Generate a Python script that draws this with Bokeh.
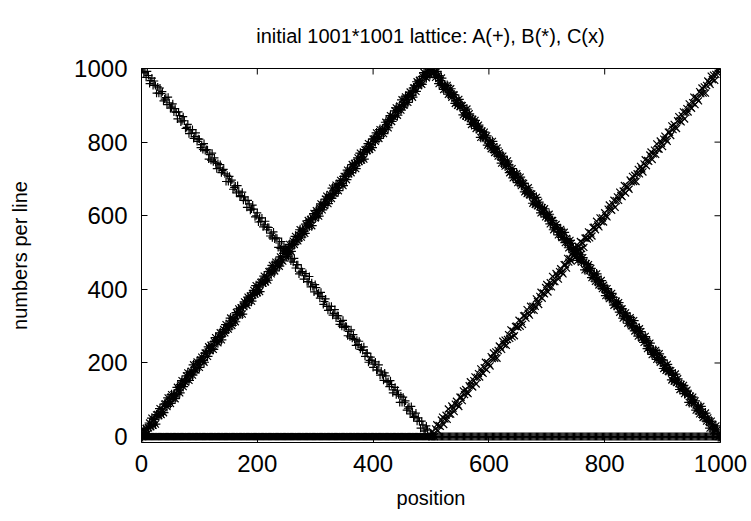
import math
from bokeh.plotting import figure
from bokeh.models import Range1d, FixedTicker, ColumnDataSource
from bokeh.embed import file_html
from bokeh.resources import INLINE

# positions 0, 2, 4, ..., 1000
position = list(range(0, 1001, 2))

# series A (+): diagonal read from x=500 back to x=0
a_diag_from_500 = [
    8, 0, 0, 18, 29, 18, 15, 32, 42, 23, 41, 51, 42, 64, 55, 52, 67, 82, 62, 81, 77, 72, 97, 92, 107, 93, 110, 93, 114, 126,
    114, 134, 127, 119, 141, 152, 136, 150, 148, 165, 173, 153, 168, 178, 167, 195, 181, 181, 203, 197, 188, 208, 216, 207, 202, 227, 227, 218, 244, 234,
    243, 237, 259, 250, 262, 248, 264, 277, 267, 290, 271, 286, 274, 299, 300, 297, 316, 300, 313, 305, 328, 329, 322, 345, 335, 330, 354, 344, 354, 343,
    354, 374, 367, 359, 381, 392, 376, 390, 388, 405, 413, 393, 408, 418, 407, 435, 421, 421, 443, 437, 428, 448, 456, 447, 442, 467, 467, 458, 484, 474,
    483, 477, 499, 490, 502, 488, 504, 517, 507, 530, 511, 526, 514, 539, 540, 537, 556, 540, 553, 545, 568, 569, 562, 585, 575, 570, 594, 584, 594, 583,
    608, 600, 597, 618, 629, 618, 615, 632, 642, 623, 641, 651, 642, 664, 655, 652, 667, 682, 662, 681, 677, 672, 697, 692, 707, 693, 710, 693, 714, 726,
    723, 717, 739, 730, 742, 728, 744, 757, 747, 770, 751, 766, 754, 779, 780, 777, 796, 780, 793, 785, 808, 809, 802, 825, 815, 810, 834, 824, 834, 823,
    848, 840, 837, 858, 869, 858, 855, 872, 882, 863, 881, 891, 882, 904, 895, 892, 907, 922, 902, 921, 917, 912, 937, 932, 947, 933, 950, 933, 954, 966,
    954, 974, 967, 959, 981, 992, 976, 990, 988, 1000, 1000,
]
# series A (+): flat part, x=502..1000
a_flat = [
    0, 0, 0, 0, 0, 0, 0, 0, 0, 0, 0, 0, 0, 0, 0, 0, 0, 0, 0, 0, 0, 0, 0, 0, 0,
    0, 0, 0, 0, 0, 0, 0, 0, 0, 0, 0, 0, 0, 0, 0, 0, 0, 0, 0, 0, 0, 0, 0, 0, 0,
    0, 0, 0, 0, 0, 0, 0, 0, 0, 0, 0, 0, 0, 0, 0, 0, 0, 0, 0, 0, 0, 0, 0, 0, 0,
    0, 0, 0, 0, 0, 0, 0, 0, 0, 0, 0, 0, 0, 0, 0, 0, 0, 0, 0, 0, 0, 0, 0, 0, 0,
    0, 0, 0, 0, 0, 0, 0, 0, 0, 0, 0, 0, 0, 0, 0, 0, 0, 0, 0, 0, 0, 0, 0, 0, 0,
    0, 0, 0, 0, 0, 0, 0, 0, 0, 0, 0, 0, 0, 0, 0, 0, 0, 0, 0, 0, 0, 0, 0, 0, 0,
    0, 0, 0, 0, 0, 0, 0, 0, 0, 0, 0, 0, 0, 0, 0, 0, 0, 0, 0, 0, 0, 0, 0, 0, 0,
    0, 0, 0, 0, 0, 0, 0, 0, 0, 0, 0, 0, 0, 0, 0, 0, 0, 0, 0, 0, 0, 0, 0, 0, 0,
    0, 0, 0, 0, 0, 0, 0, 0, 0, 0, 0, 0, 0, 0, 0, 0, 0, 0, 0, 0, 0, 0, 0, 0, 0,
    0, 0, 0, 0, 0, 0, 0, 0, 0, 0, 0, 0, 0, 0, 0, 0, 0, 0, 0, 0, 0, 0, 0, 0, 0,
]

# series B (*): rising part, x=0..500
b_rise = [
    3, 0, 19, 10, 22, 8, 24, 37, 27, 50, 31, 46, 34, 59, 60, 57, 76, 60, 73, 65, 88, 89, 82, 105, 95, 90, 114, 104, 114, 103,
    114, 134, 127, 119, 141, 152, 136, 150, 148, 165, 173, 153, 168, 178, 167, 195, 181, 181, 203, 197, 188, 208, 216, 207, 202, 227, 227, 218, 244, 234,
    248, 240, 237, 258, 269, 258, 255, 272, 282, 263, 281, 291, 282, 304, 295, 292, 307, 322, 302, 321, 317, 312, 337, 332, 347, 333, 350, 333, 354, 366,
    363, 357, 379, 370, 382, 368, 384, 397, 387, 410, 391, 406, 394, 419, 420, 417, 436, 420, 433, 425, 448, 449, 442, 465, 455, 450, 474, 464, 474, 463,
    488, 480, 477, 498, 509, 498, 495, 512, 522, 503, 521, 531, 522, 544, 535, 532, 547, 562, 542, 561, 557, 552, 577, 572, 587, 573, 590, 573, 594, 606,
    594, 614, 607, 599, 621, 632, 616, 630, 628, 645, 653, 633, 648, 658, 647, 675, 661, 661, 683, 677, 668, 688, 696, 687, 682, 707, 707, 698, 724, 714,
    723, 717, 739, 730, 742, 728, 744, 757, 747, 770, 751, 766, 754, 779, 780, 777, 796, 780, 793, 785, 808, 809, 802, 825, 815, 810, 834, 824, 834, 823,
    834, 854, 847, 839, 861, 872, 856, 870, 868, 885, 893, 873, 888, 898, 887, 915, 901, 901, 923, 917, 908, 928, 936, 927, 922, 947, 947, 938, 964, 954,
    968, 960, 957, 978, 989, 978, 975, 992, 1000, 983, 1000,
]
# series B (*): falling part, read from x=1000 back to x=502
b_fall_from_1000 = [
    8, 0, 0, 18, 29, 18, 15, 32, 42, 23, 41, 51, 42, 64, 55, 52, 67, 82, 62, 81, 77, 72, 97, 92, 107, 93, 110, 93, 114, 126,
    123, 117, 139, 130, 142, 128, 144, 157, 147, 170, 151, 166, 154, 179, 180, 177, 196, 180, 193, 185, 208, 209, 202, 225, 215, 210, 234, 224, 234, 223,
    234, 254, 247, 239, 261, 272, 256, 270, 268, 285, 293, 273, 288, 298, 287, 315, 301, 301, 323, 317, 308, 328, 336, 327, 322, 347, 347, 338, 364, 354,
    368, 360, 357, 378, 389, 378, 375, 392, 402, 383, 401, 411, 402, 424, 415, 412, 427, 442, 422, 441, 437, 432, 457, 452, 467, 453, 470, 453, 474, 486,
    474, 494, 487, 479, 501, 512, 496, 510, 508, 525, 533, 513, 528, 538, 527, 555, 541, 541, 563, 557, 548, 568, 576, 567, 562, 587, 587, 578, 604, 594,
    603, 597, 619, 610, 622, 608, 624, 637, 627, 650, 631, 646, 634, 659, 660, 657, 676, 660, 673, 665, 688, 689, 682, 705, 695, 690, 714, 704, 714, 703,
    728, 720, 717, 738, 749, 738, 735, 752, 762, 743, 761, 771, 762, 784, 775, 772, 787, 802, 782, 801, 797, 792, 817, 812, 827, 813, 830, 813, 834, 846,
    843, 837, 859, 850, 862, 848, 864, 877, 867, 890, 871, 886, 874, 899, 900, 897, 916, 900, 913, 905, 928, 929, 922, 945, 935, 930, 954, 944, 954, 943,
    954, 974, 967, 959, 981, 992, 976, 990, 988, 1000,
]

# series C (x): flat part, x=0..498
c_flat = [
    0, 0, 0, 0, 0, 0, 0, 0, 0, 0, 0, 0, 0, 0, 0, 0, 0, 0, 0, 0, 0, 0, 0, 0, 0,
    0, 0, 0, 0, 0, 0, 0, 0, 0, 0, 0, 0, 0, 0, 0, 0, 0, 0, 0, 0, 0, 0, 0, 0, 0,
    0, 0, 0, 0, 0, 0, 0, 0, 0, 0, 0, 0, 0, 0, 0, 0, 0, 0, 0, 0, 0, 0, 0, 0, 0,
    0, 0, 0, 0, 0, 0, 0, 0, 0, 0, 0, 0, 0, 0, 0, 0, 0, 0, 0, 0, 0, 0, 0, 0, 0,
    0, 0, 0, 0, 0, 0, 0, 0, 0, 0, 0, 0, 0, 0, 0, 0, 0, 0, 0, 0, 0, 0, 0, 0, 0,
    0, 0, 0, 0, 0, 0, 0, 0, 0, 0, 0, 0, 0, 0, 0, 0, 0, 0, 0, 0, 0, 0, 0, 0, 0,
    0, 0, 0, 0, 0, 0, 0, 0, 0, 0, 0, 0, 0, 0, 0, 0, 0, 0, 0, 0, 0, 0, 0, 0, 0,
    0, 0, 0, 0, 0, 0, 0, 0, 0, 0, 0, 0, 0, 0, 0, 0, 0, 0, 0, 0, 0, 0, 0, 0, 0,
    0, 0, 0, 0, 0, 0, 0, 0, 0, 0, 0, 0, 0, 0, 0, 0, 0, 0, 0, 0, 0, 0, 0, 0, 0,
    0, 0, 0, 0, 0, 0, 0, 0, 0, 0, 0, 0, 0, 0, 0, 0, 0, 0, 0, 0, 0, 0, 0, 0, 0,
]
# series C (x): rising part, x=500..1000
c_rise = [
    0, 14, 7, 0, 21, 32, 16, 30, 28, 45, 53, 33, 48, 58, 47, 75, 61, 61, 83, 77, 68, 88, 96, 87, 82, 107, 107, 98, 124, 114,
    128, 120, 117, 138, 149, 138, 135, 152, 162, 143, 161, 171, 162, 184, 175, 172, 187, 202, 182, 201, 197, 192, 217, 212, 227, 213, 230, 213, 234, 246,
    243, 237, 259, 250, 262, 248, 264, 277, 267, 290, 271, 286, 274, 299, 300, 297, 316, 300, 313, 305, 328, 329, 322, 345, 335, 330, 354, 344, 354, 343,
    354, 374, 367, 359, 381, 392, 376, 390, 388, 405, 413, 393, 408, 418, 407, 435, 421, 421, 443, 437, 428, 448, 456, 447, 442, 467, 467, 458, 484, 474,
    483, 477, 499, 490, 502, 488, 504, 517, 507, 530, 511, 526, 514, 539, 540, 537, 556, 540, 553, 545, 568, 569, 562, 585, 575, 570, 594, 584, 594, 583,
    608, 600, 597, 618, 629, 618, 615, 632, 642, 623, 641, 651, 642, 664, 655, 652, 667, 682, 662, 681, 677, 672, 697, 692, 707, 693, 710, 693, 714, 726,
    714, 734, 727, 719, 741, 752, 736, 750, 748, 765, 773, 753, 768, 778, 767, 795, 781, 781, 803, 797, 788, 808, 816, 807, 802, 827, 827, 818, 844, 834,
    848, 840, 837, 858, 869, 858, 855, 872, 882, 863, 881, 891, 882, 904, 895, 892, 907, 922, 902, 921, 917, 912, 937, 932, 947, 933, 950, 933, 954, 966,
    963, 957, 979, 970, 982, 968, 984, 997, 987, 1000, 1000,
]

ticks = [0, 200, 400, 600, 800, 1000]
title_text = "initial 1001*1001 lattice: A(+), B(*), C(x)"
x_label = "position"
y_label = "numbers per line"

a_vals = a_diag_from_500[::-1] + a_flat
b_vals = b_rise + b_fall_from_1000[::-1]
c_vals = c_flat + c_rise

FONT = "Liberation Sans"
X0, X1 = 0, 1000
Y0, Y1 = -16, 1000

p = figure(width=751, height=521, output_backend="svg", toolbar_location=None,
           x_range=Range1d(X0, X1), y_range=Range1d(Y0, Y1),
           min_border_left=141, min_border_right=31, min_border_top=65,
           min_border_bottom=79)
p.background_fill_color = "white"
p.border_fill_color = "white"
p.outline_line_color = "black"
p.outline_line_width = 1
p.outline_line_alpha = 1
p.grid.visible = False

p.title.text = title_text
p.title.align = "center"
p.title.text_font = FONT
p.title.text_font_size = "20px"
p.title.text_font_style = "normal"
p.title.text_color = "black"
p.title.standoff = 44

for ax in (p.xaxis[0], p.yaxis[0]):
    ax.ticker = FixedTicker(ticks=ticks)
    ax.major_tick_in = 6
    ax.major_tick_out = 0
    ax.minor_tick_in = 0
    ax.minor_tick_out = 0
    ax.axis_line_color = None
    ax.major_tick_line_color = "black"
    ax.major_label_text_font = FONT
    ax.major_label_text_font_size = "24px"
    ax.major_label_text_color = "black"
    ax.axis_label_text_font = FONT
    ax.axis_label_text_font_size = "20px"
    ax.axis_label_text_font_style = "normal"
    ax.axis_label_text_color = "black"

p.xaxis[0].axis_label = x_label
p.yaxis[0].axis_label = y_label
p.xaxis[0].major_label_standoff = 12
p.yaxis[0].major_label_standoff = 14
p.xaxis[0].axis_label_standoff = 12
p.yaxis[0].axis_label_standoff = 40

# inward ticks on the top and right edges (mirror of the bottom/left ticks)
p.ray(x=ticks, y=[Y1] * len(ticks), length=6, length_units="screen",
      angle=-math.pi / 2, line_color="black", line_width=1)
p.ray(x=[X1] * len(ticks), y=ticks, length=6, length_units="screen",
      angle=math.pi, line_color="black", line_width=1)

src = ColumnDataSource(data=dict(x=position, a=a_vals, b=b_vals, c=c_vals))

p.scatter("x", "a", source=src, marker="cross", size=8, line_color="black",
          line_width=1.2)
p.scatter("x", "b", source=src, marker="asterisk", size=10, line_color="black",
          line_width=1.2)
p.scatter("x", "c", source=src, marker="x", size=10, line_color="black",
          line_width=1.2)

open("out.html", "w").write(file_html(p, INLINE))
